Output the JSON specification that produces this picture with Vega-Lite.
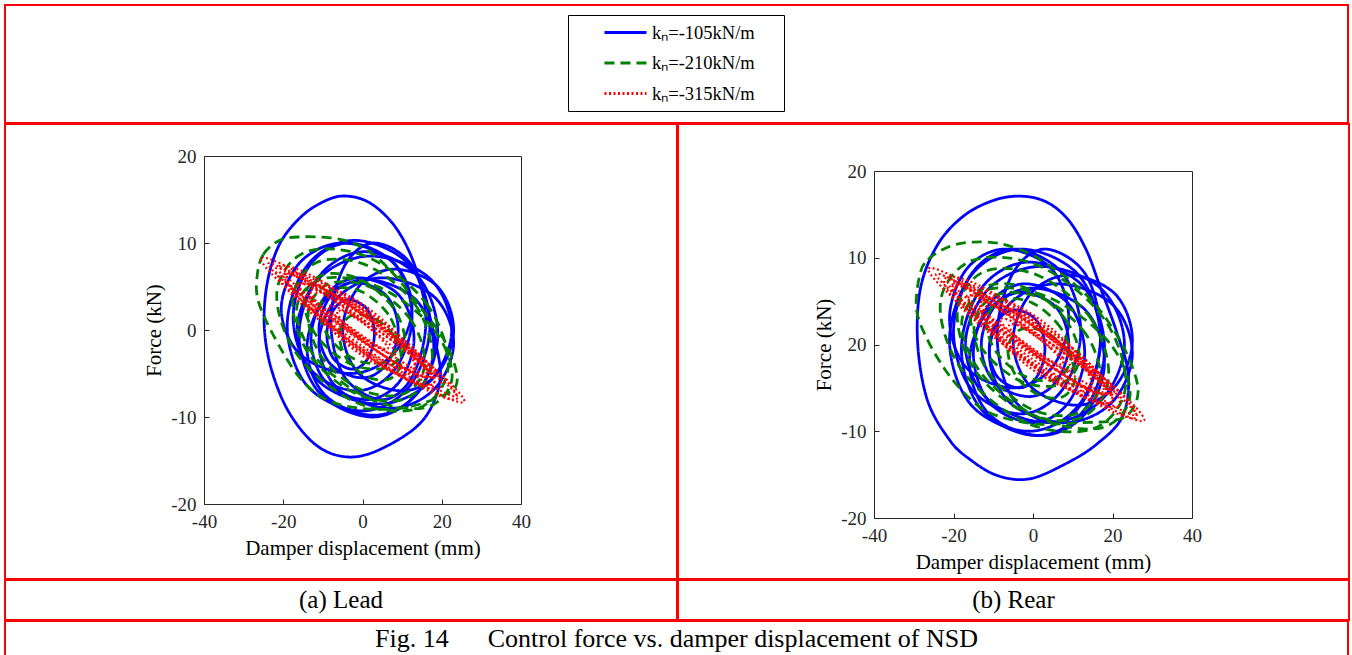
{
"$schema":"https://vega.github.io/schema/vega-lite/v6.json",
"padding":{"left":4,"top":4,"right":2,"bottom":0},
"spacing":-2,
"config":{
 "view":{"stroke":"#ff0000","strokeWidth":2},
 "font":"Liberation Serif",
 "axis":{"grid":false,"labelFlush":false,"labelOverlap":false,"domainColor":"#262626","domainWidth":1,"tickColor":"#262626","labelColor":"#262626","titleColor":"#000000","labelFont":"Liberation Serif","titleFont":"Liberation Serif","labelFontSize":19,"titleFontSize":21,"titleFontWeight":"normal","tickSize":-5},
 "axisX":{"labelPadding":13,"titlePadding":6},
 "axisY":{"labelPadding":13,"titlePadding":6}
},
"datasets":{
"lead":[
{"s":"A","l":0,"i":0,"x":-4.9,"y":15.4},{"s":"A","l":0,"i":1,"x":1.5,"y":14.7},{"s":"A","l":0,"i":2,"x":7.5,"y":12.3},{"s":"A","l":0,"i":3,"x":12,"y":8.8},{"s":"A","l":0,"i":4,"x":15.5,"y":4},{"s":"A","l":0,"i":5,"x":18.5,"y":-1.5},{"s":"A","l":0,"i":6,"x":19.5,"y":-6},{"s":"A","l":0,"i":7,"x":15,"y":-10.5},{"s":"A","l":0,"i":8,"x":5,"y":-13.6},{"s":"A","l":0,"i":9,"x":-3.5,"y":-14.6},{"s":"A","l":0,"i":10,"x":-11.5,"y":-13.3},{"s":"A","l":0,"i":11,"x":-18.5,"y":-9.5},{"s":"A","l":0,"i":12,"x":-23,"y":-4.5},{"s":"A","l":0,"i":13,"x":-24.8,"y":0.5},{"s":"A","l":0,"i":14,"x":-24,"y":5.5},{"s":"A","l":0,"i":15,"x":-21,"y":9.8},{"s":"A","l":0,"i":16,"x":-16,"y":12.8},{"s":"A","l":0,"i":17,"x":-10.5,"y":14.6},
{"s":"A","l":1,"i":0,"x":17,"y":0.5},{"s":"A","l":1,"i":1,"x":11.8,"y":7.5},{"s":"A","l":1,"i":2,"x":-2,"y":10.3},{"s":"A","l":1,"i":3,"x":-13.8,"y":7.5},{"s":"A","l":1,"i":4,"x":-19,"y":0.5},{"s":"A","l":1,"i":5,"x":-13.8,"y":-6.5},{"s":"A","l":1,"i":6,"x":0,"y":-9.3},{"s":"A","l":1,"i":7,"x":11.8,"y":-6.5},
{"s":"A","l":2,"i":0,"x":19,"y":-0.5},{"s":"A","l":2,"i":1,"x":13.9,"y":6.2},{"s":"A","l":2,"i":2,"x":0.5,"y":9},{"s":"A","l":2,"i":3,"x":-10.9,"y":6.2},{"s":"A","l":2,"i":4,"x":-16,"y":-0.5},{"s":"A","l":2,"i":5,"x":-10.9,"y":-7.2},{"s":"A","l":2,"i":6,"x":2.5,"y":-10},{"s":"A","l":2,"i":7,"x":13.9,"y":-7.2},
{"s":"A","l":3,"i":0,"x":22.5,"y":0},{"s":"A","l":3,"i":1,"x":16.8,"y":6},{"s":"A","l":3,"i":2,"x":2,"y":8.5},{"s":"A","l":3,"i":3,"x":-10.8,"y":6},{"s":"A","l":3,"i":4,"x":-16.5,"y":0},{"s":"A","l":3,"i":5,"x":-10.8,"y":-6},{"s":"A","l":3,"i":6,"x":4,"y":-8.5},{"s":"A","l":3,"i":7,"x":16.8,"y":-6},
{"s":"A","l":4,"i":0,"x":23,"y":-1.5},{"s":"A","l":4,"i":1,"x":18.1,"y":3.8},{"s":"A","l":4,"i":2,"x":5,"y":6},{"s":"A","l":4,"i":3,"x":-6.1,"y":3.8},{"s":"A","l":4,"i":4,"x":-11,"y":-1.5},{"s":"A","l":4,"i":5,"x":-6.1,"y":-6.8},{"s":"A","l":4,"i":6,"x":7,"y":-9},{"s":"A","l":4,"i":7,"x":18.1,"y":-6.8},
{"s":"A","l":5,"i":0,"x":12.5,"y":1.5},{"s":"A","l":5,"i":1,"x":8.2,"y":7.5},{"s":"A","l":5,"i":2,"x":-3.5,"y":10},{"s":"A","l":5,"i":3,"x":-13.2,"y":7.5},{"s":"A","l":5,"i":4,"x":-17.5,"y":1.5},{"s":"A","l":5,"i":5,"x":-13.2,"y":-4.5},{"s":"A","l":5,"i":6,"x":-1.5,"y":-7},{"s":"A","l":5,"i":7,"x":8.2,"y":-4.5},
{"s":"A","l":6,"i":0,"x":13,"y":-1},{"s":"A","l":6,"i":1,"x":9.2,"y":4},{"s":"A","l":6,"i":2,"x":-1,"y":6},{"s":"A","l":6,"i":3,"x":-9.2,"y":4},{"s":"A","l":6,"i":4,"x":-13,"y":-1},{"s":"A","l":6,"i":5,"x":-9.2,"y":-6},{"s":"A","l":6,"i":6,"x":1,"y":-8},{"s":"A","l":6,"i":7,"x":9.2,"y":-6},
{"s":"A","l":7,"i":0,"x":23,"y":0},{"s":"A","l":7,"i":1,"x":18.9,"y":5},{"s":"A","l":7,"i":2,"x":8,"y":7},{"s":"A","l":7,"i":3,"x":-0.9,"y":5},{"s":"A","l":7,"i":4,"x":-5,"y":0},{"s":"A","l":7,"i":5,"x":-0.9,"y":-5},{"s":"A","l":7,"i":6,"x":10,"y":-7},{"s":"A","l":7,"i":7,"x":18.9,"y":-5},
{"s":"A","l":8,"i":0,"x":9,"y":0},{"s":"A","l":8,"i":1,"x":6.1,"y":3.9},{"s":"A","l":8,"i":2,"x":-2,"y":5.5},{"s":"A","l":8,"i":3,"x":-8.1,"y":3.9},{"s":"A","l":8,"i":4,"x":-11,"y":0},{"s":"A","l":8,"i":5,"x":-8.1,"y":-3.9},{"s":"A","l":8,"i":6,"x":0,"y":-5.5},{"s":"A","l":8,"i":7,"x":6.1,"y":-3.9},
{"s":"A","l":9,"i":0,"x":18,"y":-2},{"s":"A","l":9,"i":1,"x":13.4,"y":3.5},{"s":"A","l":9,"i":2,"x":1,"y":5.8},{"s":"A","l":9,"i":3,"x":-9.4,"y":3.5},{"s":"A","l":9,"i":4,"x":-14,"y":-2},{"s":"A","l":9,"i":5,"x":-9.4,"y":-7.5},{"s":"A","l":9,"i":6,"x":3,"y":-9.8},{"s":"A","l":9,"i":7,"x":13.4,"y":-7.5},
{"s":"A","l":10,"i":0,"x":12.5,"y":2.5},{"s":"A","l":10,"i":1,"x":7.7,"y":7.8},{"s":"A","l":10,"i":2,"x":-5,"y":10},{"s":"A","l":10,"i":3,"x":-15.7,"y":7.8},{"s":"A","l":10,"i":4,"x":-20.5,"y":2.5},{"s":"A","l":10,"i":5,"x":-15.7,"y":-2.8},{"s":"A","l":10,"i":6,"x":-3,"y":-5},{"s":"A","l":10,"i":7,"x":7.7,"y":-2.8},
{"s":"A","l":11,"i":0,"x":16,"y":1},{"s":"A","l":11,"i":1,"x":12.5,"y":7.4},{"s":"A","l":11,"i":2,"x":3,"y":10},{"s":"A","l":11,"i":3,"x":-4.5,"y":7.4},{"s":"A","l":11,"i":4,"x":-8,"y":1},{"s":"A","l":11,"i":5,"x":-4.5,"y":-5.4},{"s":"A","l":11,"i":6,"x":5,"y":-8},{"s":"A","l":11,"i":7,"x":12.5,"y":-5.4},
{"s":"A","l":12,"i":0,"x":3,"y":-0.5},{"s":"A","l":12,"i":1,"x":1.3,"y":2.3},{"s":"A","l":12,"i":2,"x":-3.5,"y":3.5},{"s":"A","l":12,"i":3,"x":-7.3,"y":2.3},{"s":"A","l":12,"i":4,"x":-9,"y":-0.5},{"s":"A","l":12,"i":5,"x":-7.3,"y":-3.3},{"s":"A","l":12,"i":6,"x":-2.5,"y":-4.5},{"s":"A","l":12,"i":7,"x":1.3,"y":-3.3},
{"s":"B","l":0,"i":0,"x":-26.5,"y":6.5},{"s":"B","l":0,"i":1,"x":-25,"y":8.7},{"s":"B","l":0,"i":2,"x":-21,"y":10.3},{"s":"B","l":0,"i":3,"x":-15.8,"y":10.7},{"s":"B","l":0,"i":4,"x":-8.2,"y":10.6},{"s":"B","l":0,"i":5,"x":-2.4,"y":10},{"s":"B","l":0,"i":6,"x":2.7,"y":8.7},{"s":"B","l":0,"i":7,"x":8.7,"y":6},{"s":"B","l":0,"i":8,"x":15.3,"y":2.2},{"s":"B","l":0,"i":9,"x":20.3,"y":-0.9},{"s":"B","l":0,"i":10,"x":23.5,"y":-4.4},{"s":"B","l":0,"i":11,"x":23.5,"y":-6.5},{"s":"B","l":0,"i":12,"x":20,"y":-7.6},{"s":"B","l":0,"i":13,"x":12,"y":-8.8},{"s":"B","l":0,"i":14,"x":2,"y":-9.1},{"s":"B","l":0,"i":15,"x":-8.2,"y":-8.2},{"s":"B","l":0,"i":16,"x":-15.8,"y":-5.5},{"s":"B","l":0,"i":17,"x":-22.6,"y":-0.5},{"s":"B","l":0,"i":18,"x":-26.4,"y":3.5},
{"s":"B","l":1,"i":0,"x":17.6,"y":-3.6},{"s":"B","l":1,"i":1,"x":13.6,"y":2.7},{"s":"B","l":1,"i":2,"x":1.5,"y":7.35},{"s":"B","l":1,"i":3,"x":-11.4,"y":7.8},{"s":"B","l":1,"i":4,"x":-17.6,"y":3.6},{"s":"B","l":1,"i":5,"x":-13.6,"y":-2.7},{"s":"B","l":1,"i":6,"x":-1.5,"y":-7.35},{"s":"B","l":1,"i":7,"x":11.4,"y":-7.8},
{"s":"B","l":2,"i":0,"x":15.7,"y":-4},{"s":"B","l":2,"i":1,"x":12.3,"y":1.1},{"s":"B","l":2,"i":2,"x":2.2,"y":4.9},{"s":"B","l":2,"i":3,"x":-8.6,"y":5.3},{"s":"B","l":2,"i":4,"x":-13.7,"y":2},{"s":"B","l":2,"i":5,"x":-10.3,"y":-3.1},{"s":"B","l":2,"i":6,"x":-0.2,"y":-6.9},{"s":"B","l":2,"i":7,"x":10.6,"y":-7.3},
{"s":"B","l":3,"i":0,"x":10.7,"y":-1.6},{"s":"B","l":3,"i":1,"x":7.7,"y":2.6},{"s":"B","l":3,"i":2,"x":-1,"y":5.9},{"s":"B","l":3,"i":3,"x":-10.3,"y":6.3},{"s":"B","l":3,"i":4,"x":-14.7,"y":3.6},{"s":"B","l":3,"i":5,"x":-11.7,"y":-0.6},{"s":"B","l":3,"i":6,"x":-3,"y":-3.9},{"s":"B","l":3,"i":7,"x":6.3,"y":-4.3},
{"s":"B","l":4,"i":0,"x":22.6,"y":-5.5},{"s":"B","l":4,"i":1,"x":17.8,"y":0.2},{"s":"B","l":4,"i":2,"x":4.3,"y":4.9},{"s":"B","l":4,"i":3,"x":-10,"y":5.9},{"s":"B","l":4,"i":4,"x":-16.6,"y":2.5},{"s":"B","l":4,"i":5,"x":-11.8,"y":-3.2},{"s":"B","l":4,"i":6,"x":1.7,"y":-7.9},{"s":"B","l":4,"i":7,"x":16,"y":-8.9},
{"s":"B","l":5,"i":0,"x":8.8,"y":-1.5},{"s":"B","l":5,"i":1,"x":6.5,"y":1.8},{"s":"B","l":5,"i":2,"x":-0.2,"y":4.4},{"s":"B","l":5,"i":3,"x":-7.4,"y":4.7},{"s":"B","l":5,"i":4,"x":-10.8,"y":2.5},{"s":"B","l":5,"i":5,"x":-8.5,"y":-0.8},{"s":"B","l":5,"i":6,"x":-1.8,"y":-3.4},{"s":"B","l":5,"i":7,"x":5.4,"y":-3.7},
{"s":"B","l":6,"i":0,"x":21.6,"y":-4.4},{"s":"B","l":6,"i":1,"x":16.5,"y":2.8},{"s":"B","l":6,"i":2,"x":1.7,"y":8.3},{"s":"B","l":6,"i":3,"x":-14.1,"y":9},{"s":"B","l":6,"i":4,"x":-21.6,"y":4.4},{"s":"B","l":6,"i":5,"x":-16.5,"y":-2.8},{"s":"B","l":6,"i":6,"x":-1.7,"y":-8.3},{"s":"B","l":6,"i":7,"x":14.1,"y":-9},
{"s":"B","l":7,"i":0,"x":9.8,"y":-3.6},{"s":"B","l":7,"i":1,"x":8,"y":-0.7},{"s":"B","l":7,"i":2,"x":2.7,"y":1.4},{"s":"B","l":7,"i":3,"x":-3,"y":1.6},{"s":"B","l":7,"i":4,"x":-5.8,"y":-0.4},{"s":"B","l":7,"i":5,"x":-4,"y":-3.3},{"s":"B","l":7,"i":6,"x":1.3,"y":-5.4},{"s":"B","l":7,"i":7,"x":7,"y":-5.6},
{"s":"C","l":0,"i":0,"x":25.7,"y":-8.2},{"s":"C","l":0,"i":1,"x":18.6,"y":-4.6},{"s":"C","l":0,"i":2,"x":0.55,"y":1.7},{"s":"C","l":0,"i":3,"x":-17.9,"y":7},{"s":"C","l":0,"i":4,"x":-25.7,"y":8.2},{"s":"C","l":0,"i":5,"x":-18.6,"y":4.6},{"s":"C","l":0,"i":6,"x":-0.55,"y":-1.7},{"s":"C","l":0,"i":7,"x":17.9,"y":-7},
{"s":"C","l":1,"i":0,"x":19.9,"y":-6.4},{"s":"C","l":1,"i":1,"x":14.4,"y":-2.8},{"s":"C","l":1,"i":2,"x":-0.24,"y":2.7},{"s":"C","l":1,"i":3,"x":-15.3,"y":6.8},{"s":"C","l":1,"i":4,"x":-21.9,"y":7},{"s":"C","l":1,"i":5,"x":-16.4,"y":3.4},{"s":"C","l":1,"i":6,"x":-1.76,"y":-2.1},{"s":"C","l":1,"i":7,"x":13.3,"y":-6.2},
{"s":"C","l":2,"i":0,"x":18.1,"y":-6},{"s":"C","l":2,"i":1,"x":13.6,"y":-2.9},{"s":"C","l":2,"i":2,"x":1.67,"y":1.6},{"s":"C","l":2,"i":3,"x":-10.6,"y":4.9},{"s":"C","l":2,"i":4,"x":-16.1,"y":5},{"s":"C","l":2,"i":5,"x":-11.6,"y":1.9},{"s":"C","l":2,"i":6,"x":0.33,"y":-2.6},{"s":"C","l":2,"i":7,"x":12.6,"y":-5.9},
{"s":"C","l":3,"i":0,"x":17,"y":-5.3},{"s":"C","l":3,"i":1,"x":11.8,"y":-2.5},{"s":"C","l":3,"i":2,"x":-1.54,"y":2.23},{"s":"C","l":3,"i":3,"x":-15.2,"y":6.1},{"s":"C","l":3,"i":4,"x":-21,"y":6.9},{"s":"C","l":3,"i":5,"x":-15.8,"y":4.1},{"s":"C","l":3,"i":6,"x":-2.46,"y":-0.63},{"s":"C","l":3,"i":7,"x":11.2,"y":-4.5},
{"s":"C","l":4,"i":0,"x":23.9,"y":-7.8},{"s":"C","l":4,"i":1,"x":18,"y":-4.4},{"s":"C","l":4,"i":2,"x":2.6,"y":1.1},{"s":"C","l":4,"i":3,"x":-13.1,"y":5.5},{"s":"C","l":4,"i":4,"x":-19.9,"y":6.2},{"s":"C","l":4,"i":5,"x":-14,"y":2.8},{"s":"C","l":4,"i":6,"x":1.4,"y":-2.7},{"s":"C","l":4,"i":7,"x":17.1,"y":-7.1},
{"s":"C","l":5,"i":0,"x":13.3,"y":-4.3},{"s":"C","l":5,"i":1,"x":10,"y":-1.1},{"s":"C","l":5,"i":2,"x":0.85,"y":2.7},{"s":"C","l":5,"i":3,"x":-8.8,"y":5},{"s":"C","l":5,"i":4,"x":-13.3,"y":4.3},{"s":"C","l":5,"i":5,"x":-10,"y":1.1},{"s":"C","l":5,"i":6,"x":-0.85,"y":-2.7},{"s":"C","l":5,"i":7,"x":8.8,"y":-5},
{"s":"C","l":6,"i":0,"x":13.2,"y":-4.2},{"s":"C","l":6,"i":1,"x":9,"y":-1.2},{"s":"C","l":6,"i":2,"x":-2.33,"y":3.1},{"s":"C","l":6,"i":3,"x":-14,"y":6.2},{"s":"C","l":6,"i":4,"x":-19.2,"y":6.2},{"s":"C","l":6,"i":5,"x":-15,"y":3.2},{"s":"C","l":6,"i":6,"x":-3.67,"y":-1.1},{"s":"C","l":6,"i":7,"x":8,"y":-4.2},
{"s":"C","l":7,"i":0,"x":18.2,"y":-5.9},{"s":"C","l":7,"i":1,"x":14.3,"y":-2.8},{"s":"C","l":7,"i":2,"x":3.73,"y":1.3},{"s":"C","l":7,"i":3,"x":-7.3,"y":4.1},{"s":"C","l":7,"i":4,"x":-12.2,"y":3.9},{"s":"C","l":7,"i":5,"x":-8.3,"y":0.8},{"s":"C","l":7,"i":6,"x":2.27,"y":-3.3},{"s":"C","l":7,"i":7,"x":13.3,"y":-6.1},
{"s":"C","l":8,"i":0,"x":23.8,"y":-7.6},{"s":"C","l":8,"i":1,"x":17.2,"y":-4.6},{"s":"C","l":8,"i":2,"x":0.37,"y":1.14},{"s":"C","l":8,"i":3,"x":-16.6,"y":6.2},{"s":"C","l":8,"i":4,"x":-23.8,"y":7.6},{"s":"C","l":8,"i":5,"x":-17.2,"y":4.6},{"s":"C","l":8,"i":6,"x":-0.37,"y":-1.14},{"s":"C","l":8,"i":7,"x":16.6,"y":-6.2},
{"s":"C","l":9,"i":0,"x":6.4,"y":-2.1},{"s":"C","l":9,"i":1,"x":3.3,"y":-0.4},{"s":"C","l":9,"i":2,"x":-4.7,"y":2.55},{"s":"C","l":9,"i":3,"x":-12.9,"y":4.9},{"s":"C","l":9,"i":4,"x":-16.4,"y":5.3},{"s":"C","l":9,"i":5,"x":-13.3,"y":3.6},{"s":"C","l":9,"i":6,"x":-5.3,"y":0.65},{"s":"C","l":9,"i":7,"x":2.9,"y":-1.7},
{"s":"C","l":10,"i":0,"x":16.4,"y":-5.3},{"s":"C","l":10,"i":1,"x":13.4,"y":-3.4},{"s":"C","l":10,"i":2,"x":5.4,"y":-0.5},{"s":"C","l":10,"i":3,"x":-2.8,"y":1.8},{"s":"C","l":10,"i":4,"x":-6.4,"y":2.1},{"s":"C","l":10,"i":5,"x":-3.4,"y":0.2},{"s":"C","l":10,"i":6,"x":4.6,"y":-2.7},{"s":"C","l":10,"i":7,"x":12.8,"y":-5},
{"s":"C","l":11,"i":0,"x":8.6,"y":-2.7},{"s":"C","l":11,"i":1,"x":6.3,"y":-1.4},{"s":"C","l":11,"i":2,"x":0.24,"y":0.76},{"s":"C","l":11,"i":3,"x":-5.9,"y":2.5},{"s":"C","l":11,"i":4,"x":-8.6,"y":2.7},{"s":"C","l":11,"i":5,"x":-6.3,"y":1.4},{"s":"C","l":11,"i":6,"x":-0.24,"y":-0.76},{"s":"C","l":11,"i":7,"x":5.9,"y":-2.5},
{"s":"C","l":12,"i":0,"x":18,"y":-5.5},{"s":"C","l":12,"i":1,"x":12.7,"y":-3.1},{"s":"C","l":12,"i":2,"x":-0.73,"y":1.46},{"s":"C","l":12,"i":3,"x":-14.3,"y":5.5},{"s":"C","l":12,"i":4,"x":-20,"y":6.7},{"s":"C","l":12,"i":5,"x":-14.7,"y":4.3},{"s":"C","l":12,"i":6,"x":-1.27,"y":-0.26},{"s":"C","l":12,"i":7,"x":12.3,"y":-4.3},
{"s":"C","l":13,"i":0,"x":17.2,"y":-5.3},{"s":"C","l":13,"i":1,"x":13.1,"y":-2.9},{"s":"C","l":13,"i":2,"x":2.43,"y":0.93},{"s":"C","l":13,"i":3,"x":-8.5,"y":4},{"s":"C","l":13,"i":4,"x":-13.2,"y":4.5},{"s":"C","l":13,"i":5,"x":-9.1,"y":2.1},{"s":"C","l":13,"i":6,"x":1.57,"y":-1.73},{"s":"C","l":13,"i":7,"x":12.5,"y":-4.8}
],
"rear":[
{"s":"A","l":0,"i":0,"x":-3,"y":17.1},{"s":"A","l":0,"i":1,"x":3.5,"y":16.4},{"s":"A","l":0,"i":2,"x":9,"y":14.3},{"s":"A","l":0,"i":3,"x":13.5,"y":10.8},{"s":"A","l":0,"i":4,"x":17,"y":6.5},{"s":"A","l":0,"i":5,"x":21,"y":1.5},{"s":"A","l":0,"i":6,"x":24,"y":-3.5},{"s":"A","l":0,"i":7,"x":22.5,"y":-8.3},{"s":"A","l":0,"i":8,"x":16,"y":-11.5},{"s":"A","l":0,"i":9,"x":8,"y":-13.8},{"s":"A","l":0,"i":10,"x":-1,"y":-15.5},{"s":"A","l":0,"i":11,"x":-9,"y":-15.1},{"s":"A","l":0,"i":12,"x":-16,"y":-13.2},{"s":"A","l":0,"i":13,"x":-21,"y":-11},{"s":"A","l":0,"i":14,"x":-26.5,"y":-6.5},{"s":"A","l":0,"i":15,"x":-29,"y":0},{"s":"A","l":0,"i":16,"x":-28.3,"y":6.5},{"s":"A","l":0,"i":17,"x":-24,"y":11.5},{"s":"A","l":0,"i":18,"x":-17.5,"y":14.8},{"s":"A","l":0,"i":19,"x":-10,"y":16.6},
{"s":"A","l":1,"i":0,"x":17,"y":0.5},{"s":"A","l":1,"i":1,"x":11.5,"y":8},{"s":"A","l":1,"i":2,"x":-3,"y":11},{"s":"A","l":1,"i":3,"x":-15.5,"y":8},{"s":"A","l":1,"i":4,"x":-21,"y":0.5},{"s":"A","l":1,"i":5,"x":-15.5,"y":-7},{"s":"A","l":1,"i":6,"x":-1,"y":-10},{"s":"A","l":1,"i":7,"x":11.5,"y":-7},
{"s":"A","l":2,"i":0,"x":18,"y":-0.5},{"s":"A","l":2,"i":1,"x":12.8,"y":6.6},{"s":"A","l":2,"i":2,"x":-1,"y":9.5},{"s":"A","l":2,"i":3,"x":-12.8,"y":6.6},{"s":"A","l":2,"i":4,"x":-18,"y":-0.5},{"s":"A","l":2,"i":5,"x":-12.8,"y":-7.6},{"s":"A","l":2,"i":6,"x":1,"y":-10.5},{"s":"A","l":2,"i":7,"x":12.8,"y":-7.6},
{"s":"A","l":3,"i":0,"x":23,"y":0},{"s":"A","l":3,"i":1,"x":17.2,"y":6.4},{"s":"A","l":3,"i":2,"x":2,"y":9},{"s":"A","l":3,"i":3,"x":-11.2,"y":6.4},{"s":"A","l":3,"i":4,"x":-17,"y":0},{"s":"A","l":3,"i":5,"x":-11.2,"y":-6.4},{"s":"A","l":3,"i":6,"x":4,"y":-9},{"s":"A","l":3,"i":7,"x":17.2,"y":-6.4},
{"s":"A","l":4,"i":0,"x":25,"y":-1},{"s":"A","l":4,"i":1,"x":19.8,"y":4.7},{"s":"A","l":4,"i":2,"x":6,"y":7},{"s":"A","l":4,"i":3,"x":-5.8,"y":4.7},{"s":"A","l":4,"i":4,"x":-11,"y":-1},{"s":"A","l":4,"i":5,"x":-5.8,"y":-6.7},{"s":"A","l":4,"i":6,"x":8,"y":-9},{"s":"A","l":4,"i":7,"x":19.8,"y":-6.7},
{"s":"A","l":5,"i":0,"x":12,"y":1.5},{"s":"A","l":5,"i":1,"x":7.4,"y":8.2},{"s":"A","l":5,"i":2,"x":-5,"y":11},{"s":"A","l":5,"i":3,"x":-15.4,"y":8.2},{"s":"A","l":5,"i":4,"x":-20,"y":1.5},{"s":"A","l":5,"i":5,"x":-15.4,"y":-5.2},{"s":"A","l":5,"i":6,"x":-3,"y":-8},{"s":"A","l":5,"i":7,"x":7.4,"y":-5.2},
{"s":"A","l":6,"i":0,"x":13,"y":-1},{"s":"A","l":6,"i":1,"x":8.9,"y":4.7},{"s":"A","l":6,"i":2,"x":-2,"y":7},{"s":"A","l":6,"i":3,"x":-10.9,"y":4.7},{"s":"A","l":6,"i":4,"x":-15,"y":-1},{"s":"A","l":6,"i":5,"x":-10.9,"y":-6.7},{"s":"A","l":6,"i":6,"x":0,"y":-9},{"s":"A","l":6,"i":7,"x":8.9,"y":-6.7},
{"s":"A","l":7,"i":0,"x":25,"y":0.5},{"s":"A","l":7,"i":1,"x":20.7,"y":5.8},{"s":"A","l":7,"i":2,"x":9,"y":8},{"s":"A","l":7,"i":3,"x":-0.7,"y":5.8},{"s":"A","l":7,"i":4,"x":-5,"y":0.5},{"s":"A","l":7,"i":5,"x":-0.7,"y":-4.8},{"s":"A","l":7,"i":6,"x":11,"y":-7},{"s":"A","l":7,"i":7,"x":20.7,"y":-4.8},
{"s":"A","l":8,"i":0,"x":9,"y":0},{"s":"A","l":8,"i":1,"x":5.8,"y":4.3},{"s":"A","l":8,"i":2,"x":-3,"y":6},{"s":"A","l":8,"i":3,"x":-9.8,"y":4.3},{"s":"A","l":8,"i":4,"x":-13,"y":0},{"s":"A","l":8,"i":5,"x":-9.8,"y":-4.3},{"s":"A","l":8,"i":6,"x":-1,"y":-6},{"s":"A","l":8,"i":7,"x":5.8,"y":-4.3},
{"s":"A","l":9,"i":0,"x":18,"y":-2},{"s":"A","l":9,"i":1,"x":13.1,"y":4},{"s":"A","l":9,"i":2,"x":0,"y":6.5},{"s":"A","l":9,"i":3,"x":-11.1,"y":4},{"s":"A","l":9,"i":4,"x":-16,"y":-2},{"s":"A","l":9,"i":5,"x":-11.1,"y":-8},{"s":"A","l":9,"i":6,"x":2,"y":-10.5},{"s":"A","l":9,"i":7,"x":13.1,"y":-8},
{"s":"A","l":10,"i":0,"x":9,"y":3},{"s":"A","l":10,"i":1,"x":4.7,"y":8.7},{"s":"A","l":10,"i":2,"x":-7,"y":11},{"s":"A","l":10,"i":3,"x":-16.7,"y":8.7},{"s":"A","l":10,"i":4,"x":-21,"y":3},{"s":"A","l":10,"i":5,"x":-16.7,"y":-2.7},{"s":"A","l":10,"i":6,"x":-5,"y":-5},{"s":"A","l":10,"i":7,"x":4.7,"y":-2.7},
{"s":"A","l":11,"i":0,"x":17,"y":1},{"s":"A","l":11,"i":1,"x":13.2,"y":8.1},{"s":"A","l":11,"i":2,"x":3,"y":11},{"s":"A","l":11,"i":3,"x":-5.2,"y":8.1},{"s":"A","l":11,"i":4,"x":-9,"y":1},{"s":"A","l":11,"i":5,"x":-5.2,"y":-6.1},{"s":"A","l":11,"i":6,"x":5,"y":-9},{"s":"A","l":11,"i":7,"x":13.2,"y":-6.1},
{"s":"A","l":12,"i":0,"x":3,"y":-0.5},{"s":"A","l":12,"i":1,"x":1,"y":2.7},{"s":"A","l":12,"i":2,"x":-4.5,"y":4},{"s":"A","l":12,"i":3,"x":-9,"y":2.7},{"s":"A","l":12,"i":4,"x":-11,"y":-0.5},{"s":"A","l":12,"i":5,"x":-9,"y":-3.7},{"s":"A","l":12,"i":6,"x":-3.5,"y":-5},{"s":"A","l":12,"i":7,"x":1,"y":-3.7},
{"s":"B","l":0,"i":0,"x":-28.5,"y":8},{"s":"B","l":0,"i":1,"x":-26.4,"y":9.8},{"s":"B","l":0,"i":2,"x":-21,"y":11.3},{"s":"B","l":0,"i":3,"x":-15,"y":11.8},{"s":"B","l":0,"i":4,"x":-8,"y":11.6},{"s":"B","l":0,"i":5,"x":-0.5,"y":10.4},{"s":"B","l":0,"i":6,"x":5,"y":8.8},{"s":"B","l":0,"i":7,"x":9.6,"y":7.3},{"s":"B","l":0,"i":8,"x":16.4,"y":4.2},{"s":"B","l":0,"i":9,"x":22.9,"y":-0.4},{"s":"B","l":0,"i":10,"x":26.4,"y":-5},{"s":"B","l":0,"i":11,"x":24.5,"y":-7.8},{"s":"B","l":0,"i":12,"x":20,"y":-8.8},{"s":"B","l":0,"i":13,"x":12,"y":-9},{"s":"B","l":0,"i":14,"x":2,"y":-9.2},{"s":"B","l":0,"i":15,"x":-7,"y":-8.5},{"s":"B","l":0,"i":16,"x":-13.1,"y":-7.3},{"s":"B","l":0,"i":17,"x":-18.5,"y":-5},{"s":"B","l":0,"i":18,"x":-22.4,"y":-2.7},{"s":"B","l":0,"i":19,"x":-26.5,"y":0.5},{"s":"B","l":0,"i":20,"x":-29.3,"y":4},
{"s":"B","l":1,"i":0,"x":19,"y":-3.9},{"s":"B","l":1,"i":1,"x":14.7,"y":2.9},{"s":"B","l":1,"i":2,"x":1.6,"y":7.9},{"s":"B","l":1,"i":3,"x":-12.3,"y":8.4},{"s":"B","l":1,"i":4,"x":-19,"y":3.9},{"s":"B","l":1,"i":5,"x":-14.7,"y":-2.9},{"s":"B","l":1,"i":6,"x":-1.6,"y":-7.9},{"s":"B","l":1,"i":7,"x":12.3,"y":-8.4},
{"s":"B","l":2,"i":0,"x":17,"y":-4.3},{"s":"B","l":2,"i":1,"x":13.3,"y":1.2},{"s":"B","l":2,"i":2,"x":2.4,"y":5.3},{"s":"B","l":2,"i":3,"x":-9.3,"y":5.7},{"s":"B","l":2,"i":4,"x":-14.8,"y":2.2},{"s":"B","l":2,"i":5,"x":-11.1,"y":-3.3},{"s":"B","l":2,"i":6,"x":-0.2,"y":-7.5},{"s":"B","l":2,"i":7,"x":11.4,"y":-7.9},
{"s":"B","l":3,"i":0,"x":11.6,"y":-1.7},{"s":"B","l":3,"i":1,"x":8.3,"y":2.8},{"s":"B","l":3,"i":2,"x":-1.1,"y":6.4},{"s":"B","l":3,"i":3,"x":-11.1,"y":6.8},{"s":"B","l":3,"i":4,"x":-15.9,"y":3.9},{"s":"B","l":3,"i":5,"x":-12.6,"y":-0.6},{"s":"B","l":3,"i":6,"x":-3.2,"y":-4.2},{"s":"B","l":3,"i":7,"x":6.8,"y":-4.6},
{"s":"B","l":4,"i":0,"x":24.4,"y":-5.9},{"s":"B","l":4,"i":1,"x":19.2,"y":0.2},{"s":"B","l":4,"i":2,"x":4.6,"y":5.3},{"s":"B","l":4,"i":3,"x":-10.8,"y":6.4},{"s":"B","l":4,"i":4,"x":-17.9,"y":2.7},{"s":"B","l":4,"i":5,"x":-12.7,"y":-3.5},{"s":"B","l":4,"i":6,"x":1.8,"y":-8.5},{"s":"B","l":4,"i":7,"x":17.3,"y":-9.6},
{"s":"B","l":5,"i":0,"x":9.5,"y":-1.6},{"s":"B","l":5,"i":1,"x":7,"y":1.9},{"s":"B","l":5,"i":2,"x":-0.2,"y":4.8},{"s":"B","l":5,"i":3,"x":-8,"y":5.1},{"s":"B","l":5,"i":4,"x":-11.7,"y":2.7},{"s":"B","l":5,"i":5,"x":-9.2,"y":-0.9},{"s":"B","l":5,"i":6,"x":-1.9,"y":-3.7},{"s":"B","l":5,"i":7,"x":5.8,"y":-4},
{"s":"B","l":6,"i":0,"x":23.3,"y":-4.8},{"s":"B","l":6,"i":1,"x":17.8,"y":3},{"s":"B","l":6,"i":2,"x":1.8,"y":9},{"s":"B","l":6,"i":3,"x":-15.2,"y":9.7},{"s":"B","l":6,"i":4,"x":-23.3,"y":4.8},{"s":"B","l":6,"i":5,"x":-17.8,"y":-3},{"s":"B","l":6,"i":6,"x":-1.8,"y":-9},{"s":"B","l":6,"i":7,"x":15.2,"y":-9.7},
{"s":"B","l":7,"i":0,"x":10.6,"y":-3.9},{"s":"B","l":7,"i":1,"x":8.6,"y":-0.8},{"s":"B","l":7,"i":2,"x":2.9,"y":1.5},{"s":"B","l":7,"i":3,"x":-3.2,"y":1.7},{"s":"B","l":7,"i":4,"x":-6.3,"y":-0.4},{"s":"B","l":7,"i":5,"x":-4.3,"y":-3.6},{"s":"B","l":7,"i":6,"x":1.4,"y":-5.8},{"s":"B","l":7,"i":7,"x":7.6,"y":-6},
{"s":"C","l":0,"i":0,"x":28,"y":-8.7},{"s":"C","l":0,"i":1,"x":20.5,"y":-4.9},{"s":"C","l":0,"i":2,"x":1.4,"y":1.8},{"s":"C","l":0,"i":3,"x":-18.2,"y":7.4},{"s":"C","l":0,"i":4,"x":-26.4,"y":8.7},{"s":"C","l":0,"i":5,"x":-18.9,"y":4.9},{"s":"C","l":0,"i":6,"x":0.2,"y":-1.8},{"s":"C","l":0,"i":7,"x":19.8,"y":-7.4},
{"s":"C","l":1,"i":0,"x":21.9,"y":-6.8},{"s":"C","l":1,"i":1,"x":16,"y":-3},{"s":"C","l":1,"i":2,"x":0.5,"y":2.9},{"s":"C","l":1,"i":3,"x":-15.4,"y":7.2},{"s":"C","l":1,"i":4,"x":-22.4,"y":7.4},{"s":"C","l":1,"i":5,"x":-16.6,"y":3.6},{"s":"C","l":1,"i":6,"x":-1.1,"y":-2.2},{"s":"C","l":1,"i":7,"x":14.9,"y":-6.6},
{"s":"C","l":2,"i":0,"x":20,"y":-6.4},{"s":"C","l":2,"i":1,"x":15.2,"y":-3.1},{"s":"C","l":2,"i":2,"x":2.6,"y":1.7},{"s":"C","l":2,"i":3,"x":-10.4,"y":5.2},{"s":"C","l":2,"i":4,"x":-16.3,"y":5.3},{"s":"C","l":2,"i":5,"x":-11.5,"y":2},{"s":"C","l":2,"i":6,"x":1.1,"y":-2.8},{"s":"C","l":2,"i":7,"x":14.2,"y":-6.3},
{"s":"C","l":3,"i":0,"x":18.8,"y":-5.6},{"s":"C","l":3,"i":1,"x":13.3,"y":-2.7},{"s":"C","l":3,"i":2,"x":-0.8,"y":2.4},{"s":"C","l":3,"i":3,"x":-15.3,"y":6.5},{"s":"C","l":3,"i":4,"x":-21.5,"y":7.3},{"s":"C","l":3,"i":5,"x":-16,"y":4.3},{"s":"C","l":3,"i":6,"x":-1.8,"y":-0.7},{"s":"C","l":3,"i":7,"x":12.7,"y":-4.8},
{"s":"C","l":4,"i":0,"x":26.1,"y":-8.3},{"s":"C","l":4,"i":1,"x":19.9,"y":-4.7},{"s":"C","l":4,"i":2,"x":3.6,"y":1.2},{"s":"C","l":4,"i":3,"x":-13.1,"y":5.8},{"s":"C","l":4,"i":4,"x":-20.3,"y":6.6},{"s":"C","l":4,"i":5,"x":-14.1,"y":3},{"s":"C","l":4,"i":6,"x":2.3,"y":-2.9},{"s":"C","l":4,"i":7,"x":18.9,"y":-7.5},
{"s":"C","l":5,"i":0,"x":14.9,"y":-4.6},{"s":"C","l":5,"i":1,"x":11.4,"y":-1.2},{"s":"C","l":5,"i":2,"x":1.7,"y":2.9},{"s":"C","l":5,"i":3,"x":-8.5,"y":5.3},{"s":"C","l":5,"i":4,"x":-13.3,"y":4.6},{"s":"C","l":5,"i":5,"x":-9.8,"y":1.2},{"s":"C","l":5,"i":6,"x":-0.1,"y":-2.9},{"s":"C","l":5,"i":7,"x":10.1,"y":-5.3},
{"s":"C","l":6,"i":0,"x":14.8,"y":-4.5},{"s":"C","l":6,"i":1,"x":10.3,"y":-1.3},{"s":"C","l":6,"i":2,"x":-1.7,"y":3.3},{"s":"C","l":6,"i":3,"x":-14,"y":6.6},{"s":"C","l":6,"i":4,"x":-19.6,"y":6.6},{"s":"C","l":6,"i":5,"x":-15.1,"y":3.4},{"s":"C","l":6,"i":6,"x":-3.1,"y":-1.2},{"s":"C","l":6,"i":7,"x":9.3,"y":-4.5},
{"s":"C","l":7,"i":0,"x":20.1,"y":-6.3},{"s":"C","l":7,"i":1,"x":16,"y":-3},{"s":"C","l":7,"i":2,"x":4.8,"y":1.4},{"s":"C","l":7,"i":3,"x":-6.9,"y":4.3},{"s":"C","l":7,"i":4,"x":-12.1,"y":4.1},{"s":"C","l":7,"i":5,"x":-8,"y":0.8},{"s":"C","l":7,"i":6,"x":3.2,"y":-3.5},{"s":"C","l":7,"i":7,"x":14.9,"y":-6.5},
{"s":"C","l":8,"i":0,"x":26,"y":-8.1},{"s":"C","l":8,"i":1,"x":19,"y":-4.9},{"s":"C","l":8,"i":2,"x":1.2,"y":1.2},{"s":"C","l":8,"i":3,"x":-16.8,"y":6.6},{"s":"C","l":8,"i":4,"x":-24.4,"y":8.1},{"s":"C","l":8,"i":5,"x":-17.4,"y":4.9},{"s":"C","l":8,"i":6,"x":0.4,"y":-1.2},{"s":"C","l":8,"i":7,"x":18.4,"y":-6.6},
{"s":"C","l":9,"i":0,"x":7.6,"y":-2.2},{"s":"C","l":9,"i":1,"x":4.3,"y":-0.4},{"s":"C","l":9,"i":2,"x":-4.2,"y":2.7},{"s":"C","l":9,"i":3,"x":-12.9,"y":5.2},{"s":"C","l":9,"i":4,"x":-16.6,"y":5.6},{"s":"C","l":9,"i":5,"x":-13.3,"y":3.8},{"s":"C","l":9,"i":6,"x":-4.8,"y":0.7},{"s":"C","l":9,"i":7,"x":3.9,"y":-1.8},
{"s":"C","l":10,"i":0,"x":18.2,"y":-5.6},{"s":"C","l":10,"i":1,"x":15,"y":-3.6},{"s":"C","l":10,"i":2,"x":6.5,"y":-0.5},{"s":"C","l":10,"i":3,"x":-2.2,"y":1.9},{"s":"C","l":10,"i":4,"x":-6,"y":2.2},{"s":"C","l":10,"i":5,"x":-2.8,"y":0.2},{"s":"C","l":10,"i":6,"x":5.7,"y":-2.9},{"s":"C","l":10,"i":7,"x":14.4,"y":-5.3},
{"s":"C","l":11,"i":0,"x":9.9,"y":-2.9},{"s":"C","l":11,"i":1,"x":7.5,"y":-1.5},{"s":"C","l":11,"i":2,"x":1.1,"y":0.8},{"s":"C","l":11,"i":3,"x":-5.5,"y":2.7},{"s":"C","l":11,"i":4,"x":-8.3,"y":2.9},{"s":"C","l":11,"i":5,"x":-5.9,"y":1.5},{"s":"C","l":11,"i":6,"x":0.5,"y":-0.8},{"s":"C","l":11,"i":7,"x":7.1,"y":-2.7},
{"s":"C","l":12,"i":0,"x":19.9,"y":-5.8},{"s":"C","l":12,"i":1,"x":14.3,"y":-3.3},{"s":"C","l":12,"i":2,"x":0,"y":1.5},{"s":"C","l":12,"i":3,"x":-14.4,"y":5.8},{"s":"C","l":12,"i":4,"x":-20.4,"y":7.1},{"s":"C","l":12,"i":5,"x":-14.8,"y":4.6},{"s":"C","l":12,"i":6,"x":-0.5,"y":-0.3},{"s":"C","l":12,"i":7,"x":13.8,"y":-4.6},
{"s":"C","l":13,"i":0,"x":19,"y":-5.6},{"s":"C","l":13,"i":1,"x":14.7,"y":-3.1},{"s":"C","l":13,"i":2,"x":3.4,"y":1},{"s":"C","l":13,"i":3,"x":-8.2,"y":4.2},{"s":"C","l":13,"i":4,"x":-13.2,"y":4.8},{"s":"C","l":13,"i":5,"x":-8.8,"y":2.2},{"s":"C","l":13,"i":6,"x":2.5,"y":-1.8},{"s":"C","l":13,"i":7,"x":14,"y":-5.1}
]
},
"vconcat":[
 {"width":1343,"height":118,"data":{"values":[{"t":" "}]},"mark":{"type":"text"},"encoding":{"x":{"field":"t","type":"nominal","axis":null},"text":{"field":"t","type":"nominal"}}},
 {"spacing":-2,"hconcat":[
  {"width":672,"height":455,"data":{"name":"lead"},
   "layer":[
    {"transform":[{"filter":"datum.s==='A'"}],
     "mark":{"type":"line","interpolate":"cardinal-closed","strokeWidth":2.8},
     "encoding":{
      "x":{"field":"x","type":"quantitative","scale":{"domain":[-40,40],"range":[199,516],"nice":false,"zero":false},"axis":{"orient":"bottom","offset":-75,"values":[-40,-20,0,20,40],"labelExpr":"datum.value<0?'-'+abs(datum.value):''+datum.value","title":"Damper displacement (mm)"}},
      "y":{"field":"y","type":"quantitative","scale":{"domain":[-20,20],"range":[380,32],"nice":false,"zero":false},"axis":{"orient":"left","offset":-199,"values":[-20,-10,0,10,20],"labelExpr":"datum.value<0?'-'+abs(datum.value):''+datum.value","title":"Force (kN)"}},
      "color":{"field":"s","type":"nominal","scale":{"domain":["A","B","C"],"range":["#0000ff","#008000","#ff0000"]},"legend":{"title":null,"orient":"none","legendX":563,"legendY":10,"labelExpr":"datum.value=='A'?'kₙ=-105kN/m\u00a0\u00a0\u00a0\u00a0\u00a0\u200b':datum.value=='B'?'kₙ=-210kN/m\u00a0\u00a0\u00a0\u00a0\u00a0\u200b':'kₙ=-315kN/m\u00a0\u00a0\u00a0\u00a0\u00a0\u200b'","symbolType":"stroke","symbolSize":1764,"symbolStrokeWidth":3,"labelFontSize":18.5,"labelFont":"Liberation Serif","labelColor":"#000000","strokeColor":"#000000","fillColor":"#ffffff","padding":6,"rowPadding":7.5,"clipHeight":23,"symbolOffset":29,"labelOffset":4}},
      "strokeDash":{"field":"s","type":"nominal","scale":{"domain":["A","B","C"],"range":[[1,0],[10,6],[2,2.5]]},"legend":{"title":null,"orient":"none","legendX":563,"legendY":10,"labelExpr":"datum.value=='A'?'kₙ=-105kN/m\u00a0\u00a0\u00a0\u00a0\u00a0\u200b':datum.value=='B'?'kₙ=-210kN/m\u00a0\u00a0\u00a0\u00a0\u00a0\u200b':'kₙ=-315kN/m\u00a0\u00a0\u00a0\u00a0\u00a0\u200b'","symbolType":"stroke","symbolSize":1764,"symbolStrokeWidth":3,"labelFontSize":18.5,"labelFont":"Liberation Serif","labelColor":"#000000","strokeColor":"#000000","fillColor":"#ffffff","padding":6,"rowPadding":7.5,"clipHeight":23,"symbolOffset":29,"labelOffset":4}},
      "detail":{"field":"l","type":"nominal"},
      "order":{"field":"i","type":"quantitative"}
     }},
    {"transform":[{"filter":"datum.s==='B'"}],
     "mark":{"type":"line","interpolate":"cardinal-closed","strokeWidth":2.8},
     "encoding":{
      "x":{"field":"x","type":"quantitative","scale":{"domain":[-40,40],"range":[199,516],"nice":false,"zero":false},"axis":{"orient":"top","offset":-32,"labels":false,"ticks":false,"title":null}},
      "y":{"field":"y","type":"quantitative","scale":{"domain":[-20,20],"range":[380,32],"nice":false,"zero":false},"axis":{"orient":"right","offset":-156,"labels":false,"ticks":false,"title":null}},
      "color":{"field":"s","type":"nominal"},
      "strokeDash":{"field":"s","type":"nominal"},
      "detail":{"field":"l","type":"nominal"},
      "order":{"field":"i","type":"quantitative"}
     }},
    {"transform":[{"filter":"datum.s==='C'"}],
     "mark":{"type":"line","interpolate":"cardinal-closed","strokeWidth":2.2},
     "encoding":{
      "x":{"field":"x","type":"quantitative","axis":null},
      "y":{"field":"y","type":"quantitative","axis":null},
      "color":{"field":"s","type":"nominal"},
      "strokeDash":{"field":"s","type":"nominal"},
      "detail":{"field":"l","type":"nominal"},
      "order":{"field":"i","type":"quantitative"}
     }}
   ]},
  {"width":671,"height":455,"data":{"name":"rear"},
   "layer":[
    {"transform":[{"filter":"datum.s==='A'"}],
     "mark":{"type":"line","interpolate":"cardinal-closed","strokeWidth":2.8},
     "encoding":{
      "x":{"field":"x","type":"quantitative","scale":{"domain":[-40,40],"range":[196,514],"nice":false,"zero":false},"axis":{"orient":"bottom","offset":-61,"values":[-40,-20,0,20,40],"labelExpr":"datum.value<0?'-'+abs(datum.value):''+datum.value","title":"Damper displacement (mm)"}},
      "y":{"field":"y","type":"quantitative","scale":{"domain":[-20,20],"range":[394,47],"nice":false,"zero":false},"axis":{"orient":"left","offset":-196,"values":[-20,-10,0,10,20],"labelExpr":"datum.value===0?'20':datum.value<0?'-'+abs(datum.value):''+datum.value","title":"Force (kN)"}},
      "color":{"field":"s","type":"nominal"},
      "strokeDash":{"field":"s","type":"nominal"},
      "detail":{"field":"l","type":"nominal"},
      "order":{"field":"i","type":"quantitative"}
     }},
    {"transform":[{"filter":"datum.s==='B'"}],
     "mark":{"type":"line","interpolate":"cardinal-closed","strokeWidth":2.8},
     "encoding":{
      "x":{"field":"x","type":"quantitative","scale":{"domain":[-40,40],"range":[196,514],"nice":false,"zero":false},"axis":{"orient":"top","offset":-47,"labels":false,"ticks":false,"title":null}},
      "y":{"field":"y","type":"quantitative","scale":{"domain":[-20,20],"range":[394,47],"nice":false,"zero":false},"axis":{"orient":"right","offset":-157,"labels":false,"ticks":false,"title":null}},
      "color":{"field":"s","type":"nominal"},
      "strokeDash":{"field":"s","type":"nominal"},
      "detail":{"field":"l","type":"nominal"},
      "order":{"field":"i","type":"quantitative"}
     }},
    {"transform":[{"filter":"datum.s==='C'"}],
     "mark":{"type":"line","interpolate":"cardinal-closed","strokeWidth":2.2},
     "encoding":{
      "x":{"field":"x","type":"quantitative","axis":null},
      "y":{"field":"y","type":"quantitative","axis":null},
      "color":{"field":"s","type":"nominal"},
      "strokeDash":{"field":"s","type":"nominal"},
      "detail":{"field":"l","type":"nominal"},
      "order":{"field":"i","type":"quantitative"}
     }}
   ]}
 ]},
 {"spacing":-2,"hconcat":[
  {"width":672,"height":40,"data":{"values":[{"t":"(a) Lead"}]},"mark":{"type":"text","fontSize":25,"font":"Liberation Serif","color":"#000000"},"encoding":{"x":{"field":"t","type":"nominal","axis":null},"text":{"field":"t","type":"nominal"}}},
  {"width":671,"height":40,"data":{"values":[{"t":"(b) Rear"}]},"mark":{"type":"text","fontSize":25,"font":"Liberation Serif","color":"#000000"},"encoding":{"x":{"field":"t","type":"nominal","axis":null},"text":{"field":"t","type":"nominal"}}}
 ]},
 {"width":1343,"height":36,"data":{"values":[{"t":"Fig. 14\u00a0\u00a0\u00a0\u00a0\u00a0 Control force vs. damper displacement of NSD"}]},"mark":{"type":"text","fontSize":26,"font":"Liberation Serif","color":"#000000"},"encoding":{"x":{"field":"t","type":"nominal","axis":null},"text":{"field":"t","type":"nominal"}}}
]
}
